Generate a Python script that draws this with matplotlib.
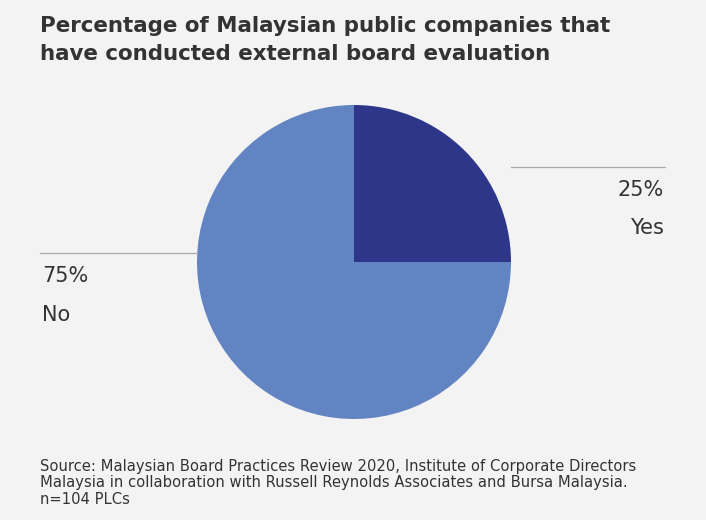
import matplotlib
matplotlib.use("Agg")
import matplotlib.pyplot as plt
from matplotlib.lines import Line2D

labels = ["Yes", "No"]
values = [25, 75]
colors = ["#2e368a", "#6384c2"]

W, H = 706, 520
fig = plt.figure(figsize=(W/100, H/100), dpi=100)
fig.patch.set_facecolor("#f3f3f3")

ax = fig.add_axes([197/W, (H-419)/H, 314/W, 314/H])
ax.pie(values, colors=colors, startangle=90, counterclock=False, radius=1.0)
ax.set_xlim(-1, 1); ax.set_ylim(-1, 1)
ax.set_aspect("equal")

fig.text(40/W, 1-40/H, "Percentage of Malaysian public companies that\nhave conducted external board evaluation",
         fontsize=15.4, fontweight="bold", color="#333333", va="center", ha="left", linespacing=1.45)

fig.add_artist(Line2D([511/W, 665/W], [1-167/H, 1-167/H], color="#aaaaaa", lw=0.9))
fig.add_artist(Line2D([40/W, 197/W], [1-253/H, 1-253/H], color="#aaaaaa", lw=0.9))

fig.text(664/W, 1-190/H, f"{values[0]}%", fontsize=15, color="#333333", ha="right", va="center")
fig.text(664/W, 1-228/H, labels[0], fontsize=15, color="#333333", ha="right", va="center")
fig.text(42/W, 1-276/H, f"{values[1]}%", fontsize=15, color="#333333", ha="left", va="center")
fig.text(42/W, 1-315/H, labels[1], fontsize=15, color="#333333", ha="left", va="center")

fig.text(40/W, 1-483/H,
         "Source: Malaysian Board Practices Review 2020, Institute of Corporate Directors\n"
         "Malaysia in collaboration with Russell Reynolds Associates and Bursa Malaysia.\n"
         "n=104 PLCs", fontsize=10.6, color="#333333", ha="left", va="center", linespacing=1.15)

fig.savefig("out.png", dpi=100, facecolor=fig.get_facecolor())
